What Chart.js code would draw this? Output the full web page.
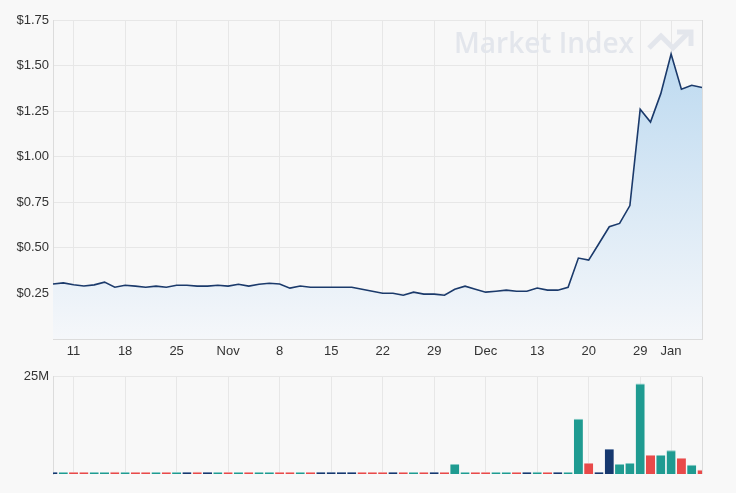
<!DOCTYPE html>
<html>
<head>
<meta charset="utf-8">
<script src="https://cdn.jsdelivr.net/npm/chart.js@4/dist/chart.umd.min.js"></script>
<style>
  body { margin: 0; background: #f8f8f8; }
  #wrap { position: relative; width: 736px; height: 493px; }
  #priceBox { position: absolute; left: 0; top: 0; width: 736px; height: 365px; }
  #volBox { position: absolute; left: 0; top: 365px; width: 736px; height: 128px; }
</style>
</head>
<body>
<div id="wrap">
  <div id="priceBox"><canvas id="price"></canvas></div>
  <div id="volBox"><canvas id="vol"></canvas></div>
</div>
<script>
// trading days, 7 Oct 2021 - 7 Jan 2022
const dates = [
  '2021-10-07','2021-10-08','2021-10-11','2021-10-12','2021-10-13','2021-10-14','2021-10-15',
  '2021-10-18','2021-10-19','2021-10-20','2021-10-21','2021-10-22',
  '2021-10-25','2021-10-26','2021-10-27','2021-10-28','2021-10-29',
  '2021-11-01','2021-11-02','2021-11-03','2021-11-04','2021-11-05',
  '2021-11-08','2021-11-09','2021-11-10','2021-11-11','2021-11-12',
  '2021-11-15','2021-11-16','2021-11-17','2021-11-18','2021-11-19',
  '2021-11-22','2021-11-23','2021-11-24','2021-11-25','2021-11-26',
  '2021-11-29','2021-11-30','2021-12-01','2021-12-02','2021-12-03',
  '2021-12-06','2021-12-07','2021-12-08','2021-12-09','2021-12-10',
  '2021-12-13','2021-12-14','2021-12-15','2021-12-16','2021-12-17',
  '2021-12-20','2021-12-21','2021-12-22','2021-12-23','2021-12-24',
  '2021-12-29','2021-12-30','2021-12-31',
  '2022-01-04','2022-01-05','2022-01-06','2022-01-07'
];

// closing price ($)
const closes = [
  0.302,0.308,0.298,0.291,0.297,0.312,0.284,
  0.295,0.290,0.284,0.290,0.284,
  0.295,0.295,0.290,0.290,0.295,
  0.290,0.300,0.290,0.300,0.306,
  0.302,0.279,0.291,0.284,0.284,
  0.284,0.284,0.284,0.273,0.262,
  0.251,0.251,0.240,0.257,0.246,
  0.246,0.240,0.273,0.290,0.273,
  0.257,0.262,0.268,0.262,0.262,
  0.280,0.268,0.268,0.284,0.444,
  0.433,0.524,0.616,0.634,0.732,
  1.26,1.19,1.346,
  1.563,1.37,1.392,1.38
];

// volume (millions) and day direction
const volumes = [
  0.1,0.1,0.1,0.1,0.1,0.4,0.6,
  0.1,0.1,0.1,0.1,0.1,
  0.1,0.1,0.6,0.1,0.1,
  0.1,0.1,0.4,0.4,0.1,
  0.4,0.1,0.1,0.1,0.1,
  0.4,0.1,0.4,0.1,0.1,
  0.4,0.4,0.1,0.1,0.4,
  0.1,0.1,2.6,0.4,0.4,
  0.4,0.4,0.1,0.1,0.1,
  0.6,0.1,0.1,0.1,14.2,
  2.85,0.1,6.4,2.6,2.85,
  23.3,4.9,4.9,
  6.1,4.1,2.35,1.1
];
const volDir = [
  'flat','up','down','down','up','up','down',
  'up','down','down','up','down',
  'up','flat','down','flat','up',
  'down','up','down','up','up',
  'down','down','up','down','flat',
  'flat','flat','flat','down','down',
  'down','flat','down','up','down',
  'flat','down','up','up','down',
  'down','up','up','down','flat',
  'up','down','flat','up','up',
  'down','flat','flat','up','up',
  'up','down','up',
  'up','down','up','down'
];

// x-axis ticks (weekly)
const tickDates = ['2021-10-11','2021-10-18','2021-10-25','2021-11-01','2021-11-08','2021-11-15',
  '2021-11-22','2021-11-29','2021-12-06','2021-12-13','2021-12-20','2021-12-29','2022-01-04'];
const tickLabels = ['11','18','25','Nov','8','15','22','29','Dec','13','20','29','Jan'];

const priceTicks = [0.25, 0.5, 0.75, 1.0, 1.25, 1.5, 1.75];

const FONT = "'Liberation Sans', Arial, sans-serif";
const gridCol = '#e7e7e7';
const borderCol = '#dcdcdc';
const dirColor = { up: '#1f9b91', down: '#e84a4a', flat: '#16386e' };
const dirCap = { up: '#86cbc5', down: '#f09a9a', flat: '#6e86ab' };

function keepWeekly(scale) {
  scale.ticks = scale.ticks.filter(t => tickDates.includes(dates[t.value]));
}
function weeklyLabel(value) {
  const i = tickDates.indexOf(dates[value]);
  return i >= 0 ? tickLabels[i] : '';
}

const rightEdge = {
  id: 'rightEdge',
  afterDraw(chart) {
    const { ctx, chartArea: a } = chart;
    ctx.save();
    ctx.strokeStyle = borderCol;
    ctx.lineWidth = 1;
    ctx.beginPath();
    ctx.moveTo(Math.round(a.right) + 0.5, a.top);
    ctx.lineTo(Math.round(a.right) + 0.5, a.bottom);
    ctx.stroke();
    ctx.restore();
  }
};

const watermark = {
  id: 'watermark',
  beforeDatasetsDraw(chart) {
    const ctx = chart.ctx;
    ctx.save();
    ctx.fillStyle = '#e3e6ec';
    ctx.strokeStyle = '#e3e6ec';
    ctx.font = "600 28px 'Open Sans', sans-serif";
    ctx.textBaseline = 'alphabetic';
    ctx.fillText('Market Index', 454, 53);
    ctx.lineWidth = 5;
    ctx.lineJoin = 'miter';
    ctx.beginPath();
    ctx.moveTo(649, 48);
    ctx.lineTo(661, 36);
    ctx.lineTo(673, 48);
    ctx.lineTo(689, 32);
    ctx.stroke();
    ctx.beginPath();
    ctx.moveTo(677, 32);
    ctx.lineTo(691, 32);
    ctx.lineTo(691, 46);
    ctx.stroke();
    ctx.restore();
  }
};

new Chart(document.getElementById('price'), {
  type: 'line',
  data: {
    labels: dates,
    datasets: [{
      data: closes,
      borderColor: '#1b3a6b',
      borderWidth: 1.6,
      pointRadius: 0,
      tension: 0,
      fill: 'origin',
      backgroundColor: (c) => {
        const a = c.chart.chartArea;
        if (!a) return 'rgba(0,0,0,0)';
        const g = c.chart.ctx.createLinearGradient(0, a.top, 0, a.bottom);
        g.addColorStop(0, '#b6d6ef');
        g.addColorStop(1, '#f5f7fa');
        return g;
      }
    }]
  },
  options: {
    responsive: true,
    maintainAspectRatio: false,
    animation: false,
    layout: { padding: { top: 20, right: 34, left: 0, bottom: 0 } },
    plugins: { legend: { display: false }, tooltip: { enabled: false } },
    scales: {
      x: {
        offset: false,
        afterBuildTicks: keepWeekly,
        afterFit: (s) => { s.height = 26; },
        grid: { color: gridCol, drawTicks: false, offset: false },
        border: { color: borderCol },
        ticks: {
          autoSkip: false, maxRotation: 0, padding: 5,
          color: '#333', font: { family: FONT, size: 13 },
          callback: weeklyLabel
        }
      },
      y: {
        min: 0, max: 1.75,
        afterBuildTicks: (s) => { s.ticks = priceTicks.map(v => ({ value: v })); },
        afterFit: (s) => { s.width = 53; },
        grid: { color: gridCol, drawTicks: false },
        border: { color: borderCol },
        ticks: {
          padding: 4, color: '#333', font: { family: FONT, size: 13 },
          callback: (v) => '$' + v.toFixed(2)
        }
      }
    }
  },
  plugins: [watermark, rightEdge]
});

new Chart(document.getElementById('vol'), {
  type: 'bar',
  data: {
    labels: dates,
    datasets: [{
      data: volumes.map(v => v * 1e6),
      backgroundColor: volDir.map(d => dirColor[d]),
      borderColor: volDir.map(d => dirCap[d]),
      borderWidth: { top: 1, left: 0, right: 0, bottom: 0 },
      borderSkipped: 'bottom',
      minBarLength: 2,
      barPercentage: 0.88,
      categoryPercentage: 1
    }]
  },
  options: {
    responsive: true,
    maintainAspectRatio: false,
    animation: false,
    layout: { padding: { top: 10, right: 34, left: 0, bottom: 19 } },
    plugins: { legend: { display: false }, tooltip: { enabled: false } },
    scales: {
      x: {
        offset: false,
        afterBuildTicks: keepWeekly,
        afterFit: (s) => { s.height = 0; },
        grid: { color: gridCol, drawTicks: false, offset: false },
        border: { display: false },
        ticks: { display: false }
      },
      y: {
        min: 0, max: 25e6,
        afterBuildTicks: (s) => { s.ticks = [{ value: 25e6 }]; },
        afterFit: (s) => { s.width = 53; },
        grid: { color: gridCol, drawTicks: false },
        border: { color: borderCol },
        ticks: {
          padding: 4, color: '#333', font: { family: FONT, size: 13 },
          callback: (v) => (v / 1e6) + 'M'
        }
      }
    }
  },
  plugins: [rightEdge]
});
</script>
</body>
</html>
